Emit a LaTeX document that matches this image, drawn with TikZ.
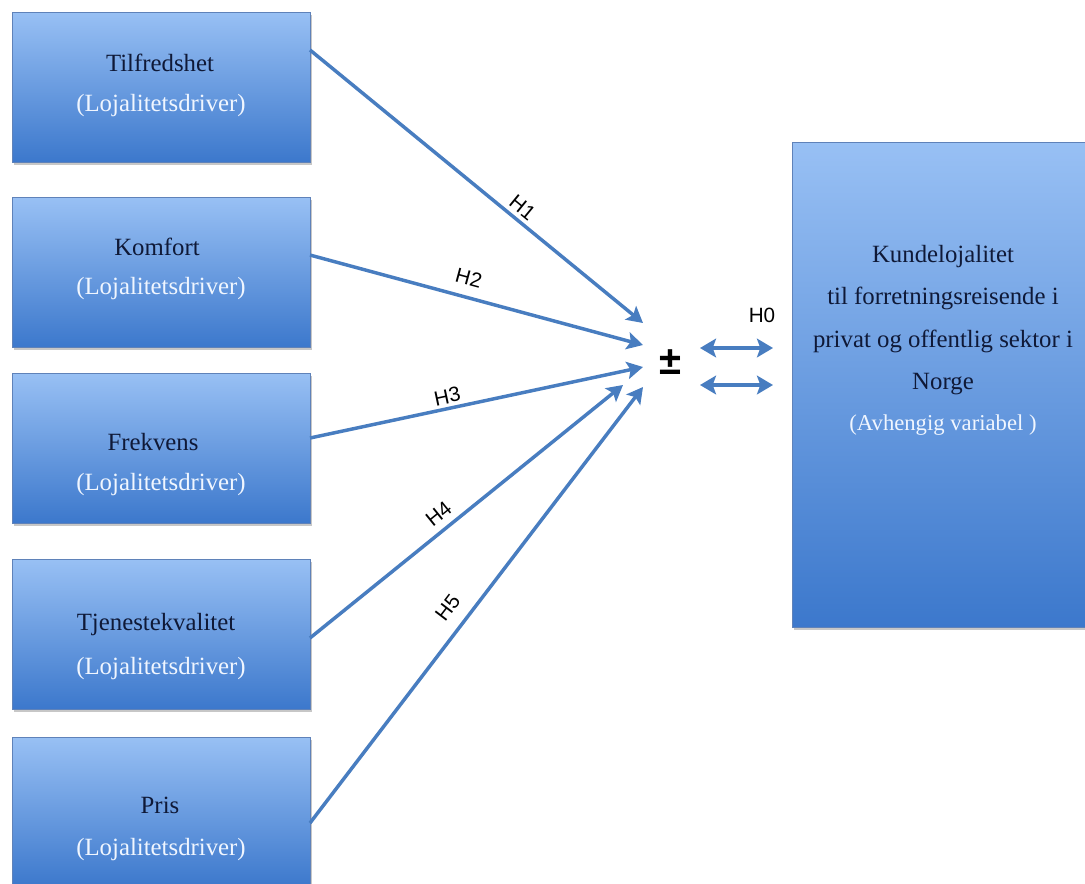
\documentclass[tikz,border=0pt]{standalone}
\usepackage{fontspec}
\setmainfont{Liberation Serif}
\newfontfamily\labelfont{Liberation Sans}
\usetikzlibrary{arrows.meta,shadows}

\definecolor{boxtop}{RGB}{152,192,244}
\definecolor{boxbot}{RGB}{60,120,204}
\definecolor{boxedge}{RGB}{95,130,185}
\definecolor{arrowblue}{RGB}{72,125,192}
\definecolor{navytext}{RGB}{15,25,55}
\definecolor{paletext}{RGB}{240,246,255}

\begin{document}
\begin{tikzpicture}[x=0.75pt,y=-0.75pt,
  panel/.style={rectangle, draw=boxedge, line width=0.5pt,
    top color=boxtop, bottom color=boxbot, inner sep=0pt, outer sep=0pt,
    drop shadow={shadow xshift=1.5pt, shadow yshift=-2pt, fill=black, opacity=0.22}},
  driverbox/.style={panel, minimum width=223.5pt, minimum height=112.5pt},
  titletext/.style={anchor=base, inner sep=0pt, text=navytext,
    font=\fontsize{18.6}{22}\selectfont},
  subtext/.style={anchor=base, inner sep=0pt, text=paletext,
    font=\fontsize{18.6}{22}\selectfont},
  infl/.style={draw=arrowblue, line width=2.6pt,
    -{Stealth[length=12pt,width=13pt,inset=2.5pt]}},
  dbl/.style={draw=arrowblue, line width=2.6pt,
    {Stealth[length=12pt,width=14pt,inset=2.5pt]}-{Stealth[length=12pt,width=14pt,inset=2.5pt]}},
  hlabel/.style={font=\labelfont\fontsize{15.5}{18}\selectfont, sloped, inner sep=0pt, text=black}
]
\useasboundingbox (0,0) rectangle (1085,883);
\fill[white] (0,0) rectangle (1085,883);

% loyalty drivers
\node[driverbox] (b1) at (161,87) {};
\node[driverbox] (b2) at (161,272.5) {};
\node[driverbox] (b3) at (161,448) {};
\node[driverbox] (b4) at (161,634) {};
\node[driverbox] (b5) at (161,812) {};

\node[titletext] (t1) at (160,71) {Tilfredshet};
\node[subtext]   (s1) at (161,111) {(Lojalitetsdriver)};
\node[titletext] (t2) at (157,255) {Komfort};
\node[subtext]   (s2) at (161,294) {(Lojalitetsdriver)};
\node[titletext] (t3) at (153,450) {Frekvens};
\node[subtext]   (s3) at (161,490) {(Lojalitetsdriver)};
\node[titletext] (t4) at (156,630) {Tjenestekvalitet};
\node[subtext]   (s4) at (161,674) {(Lojalitetsdriver)};
\node[titletext] (t5) at (160,813) {Pris};
\node[subtext]   (s5) at (161,855) {(Lojalitetsdriver)};

% dependent variable
\node[panel, minimum width=226.5pt, minimum height=363.75pt] (dep) at (943,384.5) {};
\node[titletext] (k1) at (943,262) {Kundelojalitet};
\node[titletext] (k2) at (943,304) {til forretningsreisende i};
\node[titletext] (k3) at (943,347) {privat og offentlig sektor i};
\node[titletext] (k4) at (943,389) {Norge};
\node[anchor=base, inner sep=0pt, text=paletext, font=\fontsize{17}{20}\selectfont]
  (k5) at (943,430) {(Avhengig variabel )};

% converging hypotheses
\coordinate (p1) at (643,323);
\coordinate (p2) at (643,345);
\coordinate (p3) at (643,367);
\coordinate (p4) at (623,385);
\coordinate (p5) at (643,387);

\draw[infl] ([yshift=27.75pt]b1.east) -- node[hlabel, above=3pt, pos=0.614] (h1) {H1} (p1);
\draw[infl] ([yshift=13.1pt]b2.east) -- node[hlabel, above=7.7pt, pos=0.462] (h2) {H2} (p2);
\draw[infl] ([yshift=7.5pt]b3.east) -- node[hlabel, above=2.3pt, pos=0.42] (h3) {H3} (p3);
\draw[infl] ([yshift=-3pt]b4.east) -- node[hlabel, above=5.3pt, pos=0.443] (h4) {H4} (p4);
\draw[infl] ([yshift=-8.25pt]b5.east) -- node[hlabel, above=9.2pt, pos=0.464] (h5) {H5} (p5);

% plus-minus and the two-way relation
\node[inner sep=0pt, font=\labelfont\bfseries\fontsize{30}{34}\selectfont] (pm) at (670,362) {±};
\node[inner sep=0pt, font=\labelfont\fontsize{15.5}{18}\selectfont] (h0) at (762,315) {H0};

\coordinate (d1a) at (700,348);
\coordinate (d1b) at (773,348);
\coordinate (d2a) at (700,385);
\coordinate (d2b) at (773,385);
\draw[dbl] (d1a) -- (d1b);
\draw[dbl] (d2a) -- (d2b);
\end{tikzpicture}
\end{document}
